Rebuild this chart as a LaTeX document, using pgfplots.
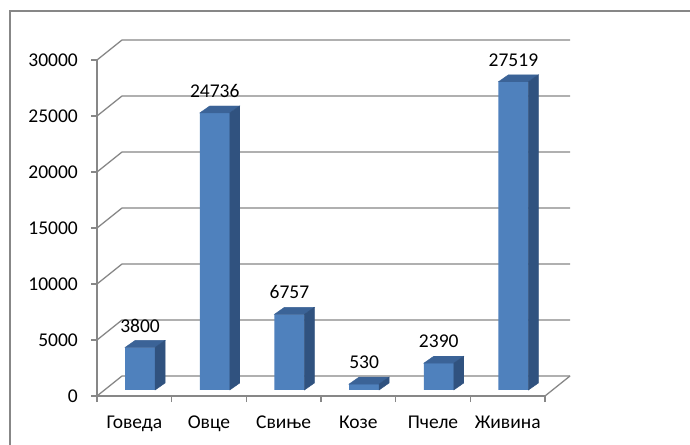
\documentclass[border=0pt]{standalone}
\usepackage{pgfplots}
\usepackage{pgfplotstable}
\pgfplotsset{compat=1.18}
\usepackage{fontspec}
\setmainfont{Carlito}
\definecolor{gridc}{HTML}{878787}
\definecolor{barfront}{HTML}{4F81BD}
\definecolor{barside}{HTML}{30527F}
\definecolor{bartop}{HTML}{3B6397}
\newcommand{\lblfont}{\fontsize{19.5bp}{23bp}\selectfont}
\pgfdeclareplotmark{emptymark}{}
\pgfplotstableread{
x v
0.5 3800
1.5 24736
2.5 6757
3.5 530
4.5 2390
5.5 27519
}\datatab
\begin{document}
\begin{tikzpicture}
\useasboundingbox (0bp,0bp) rectangle (690bp,445bp);
\fill[white] (0bp,0bp) rectangle (690bp,445bp);
\begin{scope}
\clip (0bp,0bp) rectangle (690bp,445bp);
\draw[gridc, line width=1.3bp] (10bp,-10bp) rectangle (700bp,434bp);
\end{scope}
\begin{axis}[
  at={(97bp,49bp)}, anchor=south west, scale only axis,
  width=448bp, height=336bp,
  xmin=0, xmax=6, ymin=0, ymax=30000,
  axis x line*=bottom, axis y line*=left,
  axis line style={gridc, line width=1.3bp},
  tick style={gridc, line width=1.3bp},
  tick align=outside, major tick length=6bp,
  xtick={0,1,2,3,4,5,6}, xticklabels={},
  extra x ticks={0.5,1.5,2.5,3.5,4.5,5.5},
  extra x tick labels={Говеда,Овце,Свиње,Козе,Пчеле,Живина},
  extra x tick style={major tick length=0pt, xticklabel style={anchor=base, inner sep=0pt, yshift=-32bp}},
  ytick={0,5000,10000,15000,20000,25000,30000},
  scaled y ticks=false,
  yticklabel style={anchor=east, inner sep=0pt, xshift=-13bp},
  /pgf/number format/1000 sep={},
  /pgf/number format/assume math mode=true,
  tick label style={font=\lblfont, text=black},
  clip=false,
]
\pgfplotsinvokeforeach{0,5000,10000,15000,20000,25000,30000}{
  \draw[gridc, line width=1.3bp] (axis cs:0,#1) -- ++(25bp,20bp) -- ++(448bp,0bp);
}
\draw[gridc, line width=1.3bp] (axis cs:6,0) -- ++(25bp,20bp);
\end{axis}
\begin{axis}[
  at={(102.75bp,55bp)}, anchor=south west, scale only axis,
  width=448bp, height=336bp,
  xmin=0, xmax=6, ymin=0, ymax=30000,
  hide axis, clip=false,
  /pgf/number format/1000 sep={},
  /pgf/number format/assume math mode=true,
]
\addplot[ybar, bar width=30bp, fill=barfront, draw=none,
  nodes near coords,
  nodes near coords style={font=\lblfont, text=black, inner sep=0pt, anchor=south, yshift=15bp}]
  table[x=x, y=v] {\datatab};
\addplot[only marks, mark=emptymark, scatter,
  point meta=explicit symbolic,
  scatter/@pre marker code/.code={%
    \edef\hh{\fpeval{\pgfplotspointmeta*0.0112}}%
    \fill[bartop] (-15bp,0bp) -- (15bp,0bp) -- (25bp,7bp) -- (-5bp,7bp) -- cycle;
    \fill[barside] (15bp,0bp) -- (25bp,7bp) -- (25bp,7bp-\hh bp) -- (15bp,-\hh bp) -- cycle;
  },
  scatter/@post marker code/.code={},
] table[x=x, y=v, meta=v] {\datatab};
\end{axis}
\end{tikzpicture}
\end{document}
